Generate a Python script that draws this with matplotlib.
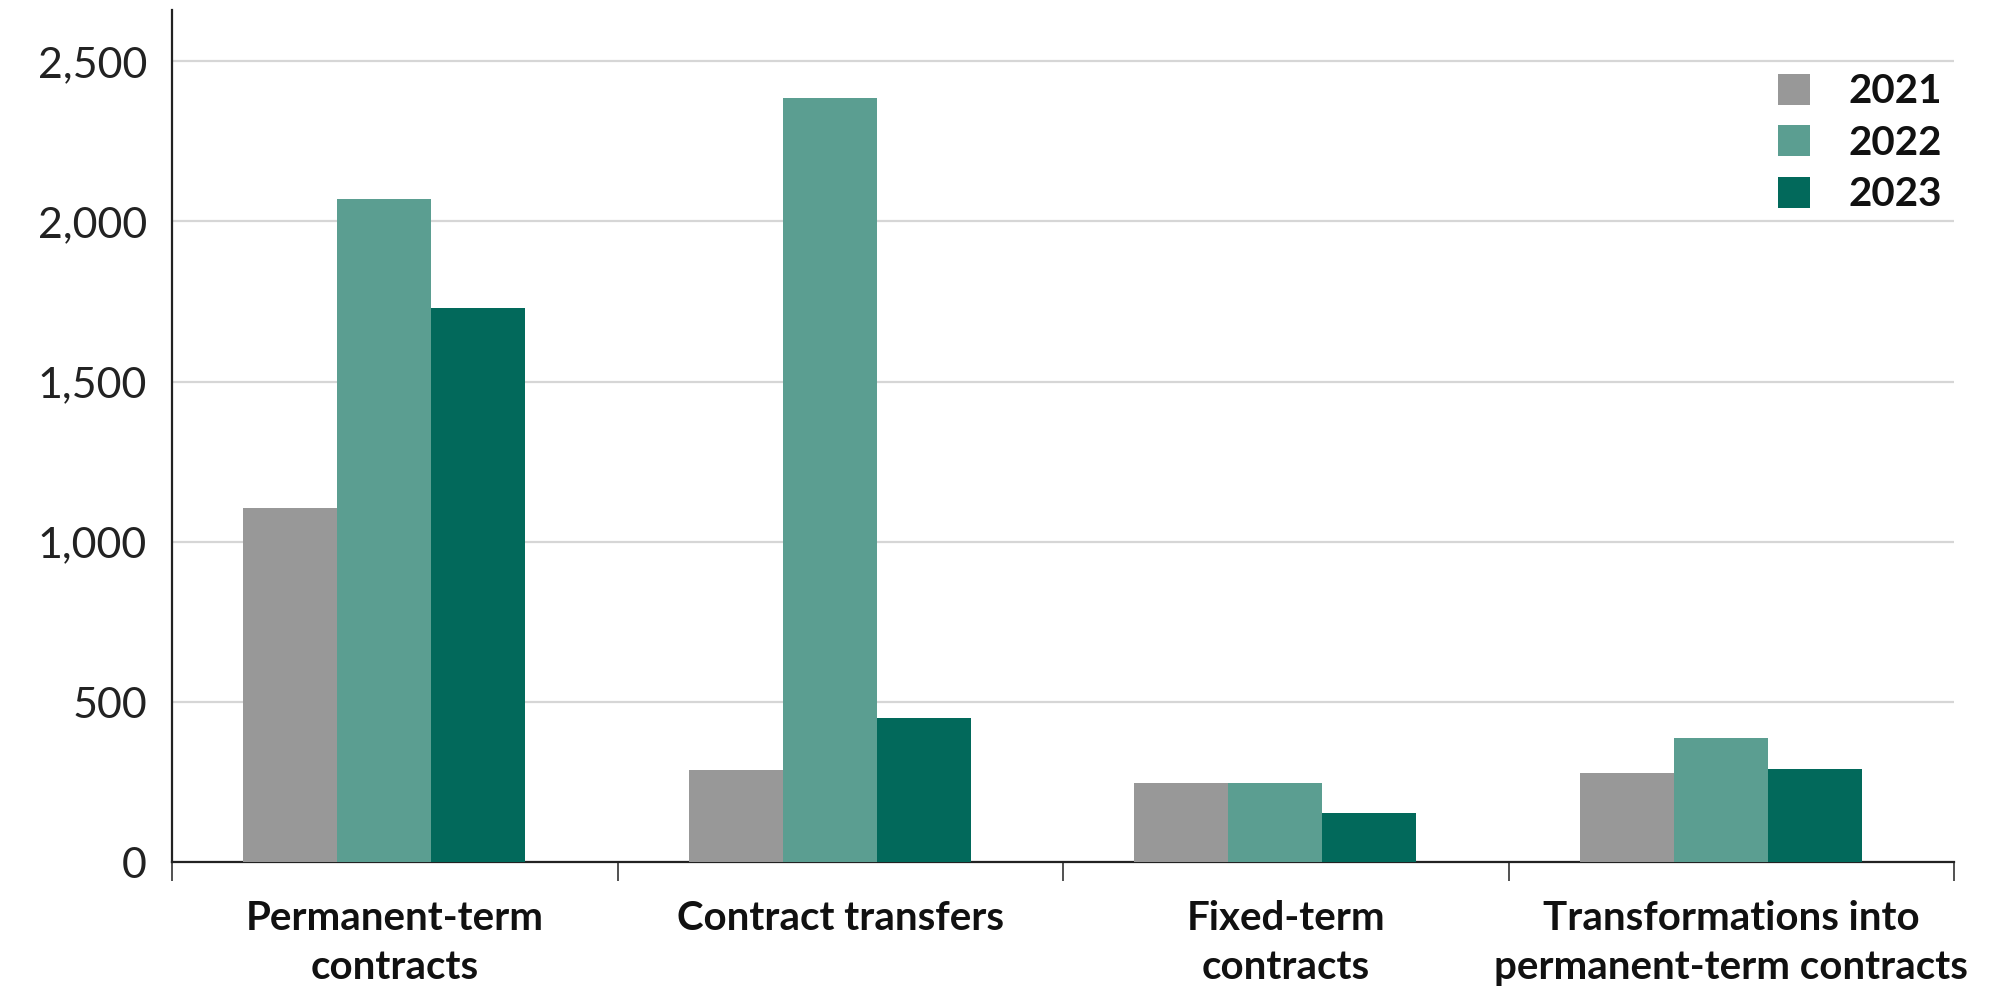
import numpy as np
import matplotlib.pyplot as plt
from matplotlib.ticker import FuncFormatter, FixedLocator

# hiring figures by contract type, three years
categories = ["Permanent-term\ncontracts", "Contract transfers",
              "Fixed-term\ncontracts", "Transformations into\npermanent-term contracts"]
years = ["2021", "2022", "2023"]
v2021 = [1107, 290, 248, 279]
v2022 = [2071, 2386, 248, 388]
v2023 = [1729, 450, 155, 292]
colors = ["#989898", "#5b9e91", "#02695b"]

fig = plt.figure(figsize=(20.08, 9.94), dpi=100)
ax = fig.add_axes([0.0857, 0.1323, 0.8875, 0.8577])

centers = np.arange(len(categories)) + 0.5
width = 0.211
shift = -0.024
for i, (vals, yr) in enumerate(zip([v2021, v2022, v2023], years)):
    ax.bar(centers + shift + (i - 1) * width, vals, width, color=colors[i],
           label=yr, zorder=3, linewidth=0)

ax.set_xlim(0, 4)
ax.set_ylim(0, 2660)
ax.set_yticks([0, 500, 1000, 1500, 2000, 2500])
ax.yaxis.set_major_formatter(FuncFormatter(lambda v, p: f"{int(v):,}"))
ax.grid(axis="y", color="#d6d6d6", linewidth=1.6, zorder=0)
ax.set_axisbelow(True)

# separators between groups as major ticks, names as minor ticks
ax.xaxis.set_major_locator(FixedLocator([0, 1, 2, 3, 4]))
ax.xaxis.set_minor_locator(FixedLocator(centers))
ax.set_xticklabels([])
ax.set_xticklabels(categories, minor=True, fontsize=29, fontweight="bold",
                   family=["Lato", "DejaVu Sans"], linespacing=1.4, color="#111111")
ax.tick_params(axis="x", which="major", length=14, width=1.2, color="#333333", direction="out")
ax.tick_params(axis="x", which="minor", length=0, pad=27)
ax.tick_params(axis="y", length=0, pad=18, labelsize=31, labelcolor="#222222")
for lab in ax.get_yticklabels():
    lab.set_family(["Lato", "DejaVu Sans"])

for s in ["top", "right"]:
    ax.spines[s].set_visible(False)
ax.spines["left"].set_color("#222222")
ax.spines["left"].set_linewidth(1.6)
ax.spines["bottom"].set_color("#222222")
ax.spines["bottom"].set_linewidth(1.6)

leg = ax.legend(loc="upper right", bbox_to_anchor=(1.0, 0.94), frameon=False,
                prop={"family": ["Lato", "DejaVu Sans"], "weight": "bold", "size": 29},
                handlelength=0.8, handleheight=0.8, handletextpad=0.95,
                labelspacing=0.36, borderaxespad=0.0, borderpad=0.3)
for t in leg.get_texts():
    t.set_color("#111111")

fig.savefig("out.png", dpi=100)
